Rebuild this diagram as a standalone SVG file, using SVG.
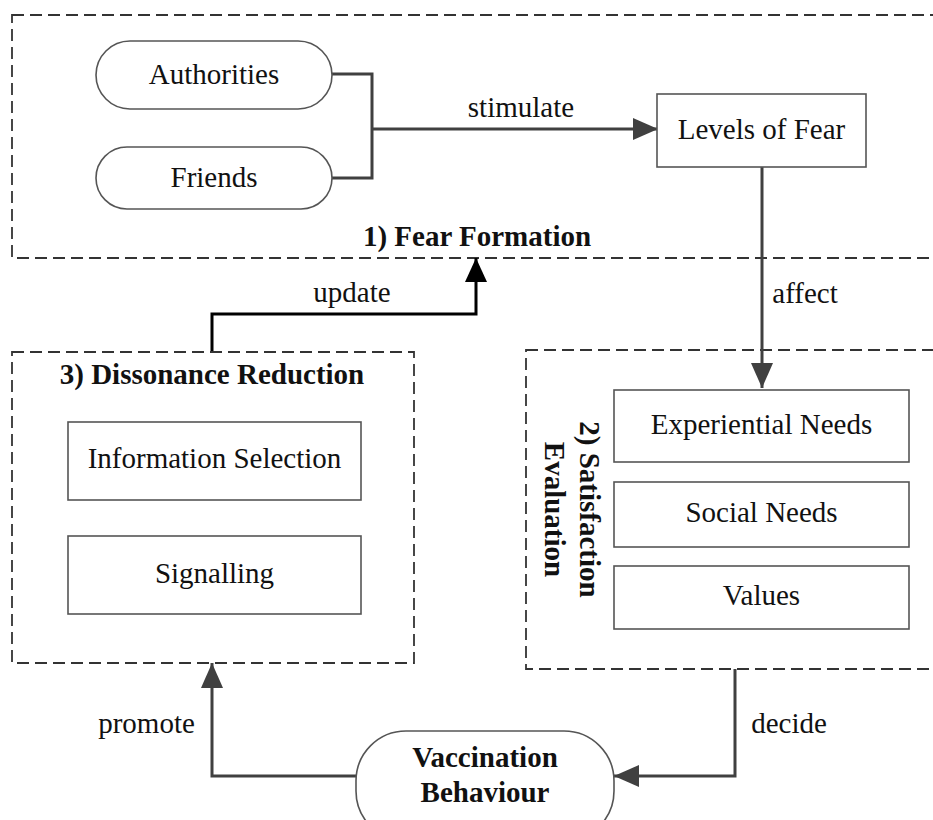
<svg xmlns="http://www.w3.org/2000/svg" width="933" height="820" viewBox="0 0 933 820" font-family="Liberation Serif" font-size="29">
<style>
text{fill:#111;text-anchor:middle}
.b{font-weight:bold}
.node{fill:#fff;stroke:#555;stroke-width:1.6}
.grp{fill:none;stroke:#333;stroke-width:1.8;stroke-dasharray:12 6}
.c{fill:none;stroke:#404040;stroke-width:3}
.k{fill:none;stroke:#000;stroke-width:3}
</style>
<defs>
<marker id="ah" markerUnits="userSpaceOnUse" markerWidth="26" markerHeight="24" refX="25" refY="11" orient="auto"><path d="M0,0 L25,11 L0,22 z" fill="#404040"/></marker>
<marker id="ahk" markerUnits="userSpaceOnUse" markerWidth="26" markerHeight="24" refX="24" refY="11" orient="auto"><path d="M0,0 L24,11 L0,22 z" fill="#000"/></marker>
</defs>
<g id="group-fear">
<rect class="grp" x="12" y="15" width="940" height="243"/>
<text class="b" x="477" y="246">1) Fear Formation</text>
</g>
<g id="group-satisfaction">
<rect class="grp" x="526" y="350" width="420" height="319"/>
<text class="b" transform="translate(580,509.5) rotate(90)" x="0" y="0">2) Satisfaction</text>
<text class="b" transform="translate(545,509.5) rotate(90)" x="0" y="0">Evaluation</text>
</g>
<g id="group-dissonance">
<rect class="grp" x="12" y="352" width="402" height="311"/>
<text class="b" x="212" y="384">3) Dissonance Reduction</text>
</g>
<g id="connectors">
<path class="c" d="M332,74 H372 V178 H332"/>
<path class="c" d="M372,129 H658" marker-end="url(#ah)"/>
<text x="521" y="117">stimulate</text>
<path class="c" d="M762,167 V388" stroke-width="2.6" marker-end="url(#ah)"/>
<text x="805" y="303">affect</text>
<path class="c" d="M735,669 V776 H614" marker-end="url(#ah)"/>
<text x="789" y="733">decide</text>
<path class="c" d="M356,776 H212 V663" marker-end="url(#ah)"/>
<text x="146.5" y="733">promote</text>
<path class="k" d="M212,351 V314 H476 V258" marker-end="url(#ahk)"/>
<text x="352" y="302">update</text>
</g>
<g id="authorities">
<rect class="node" x="96" y="41" width="236" height="68" rx="34"/>
<text x="214" y="84">Authorities</text>
</g>
<g id="friends">
<rect class="node" x="96" y="147" width="236" height="62" rx="31"/>
<text x="214" y="187">Friends</text>
</g>
<g id="levels-of-fear">
<rect class="node" x="657" y="94" width="209" height="73"/>
<text x="761.5" y="139">Levels of Fear</text>
</g>
<g id="experiential-needs">
<rect class="node" x="614" y="390" width="295" height="72"/>
<text x="761.5" y="434">Experiential Needs</text>
</g>
<g id="social-needs">
<rect class="node" x="614" y="482" width="295" height="65"/>
<text x="761.5" y="522">Social Needs</text>
</g>
<g id="values">
<rect class="node" x="614" y="566" width="295" height="63"/>
<text x="761.5" y="605">Values</text>
</g>
<g id="information-selection">
<rect class="node" x="68" y="422" width="293" height="78"/>
<text x="214.5" y="468">Information Selection</text>
</g>
<g id="signalling">
<rect class="node" x="68" y="536" width="293" height="78"/>
<text x="214.5" y="583">Signalling</text>
</g>
<g id="vaccination-behaviour">
<rect class="node" x="356" y="731" width="258" height="110" rx="50"/>
<text class="b" x="485" y="767">Vaccination</text>
<text class="b" x="485" y="802">Behaviour</text>
</g>
</svg>
